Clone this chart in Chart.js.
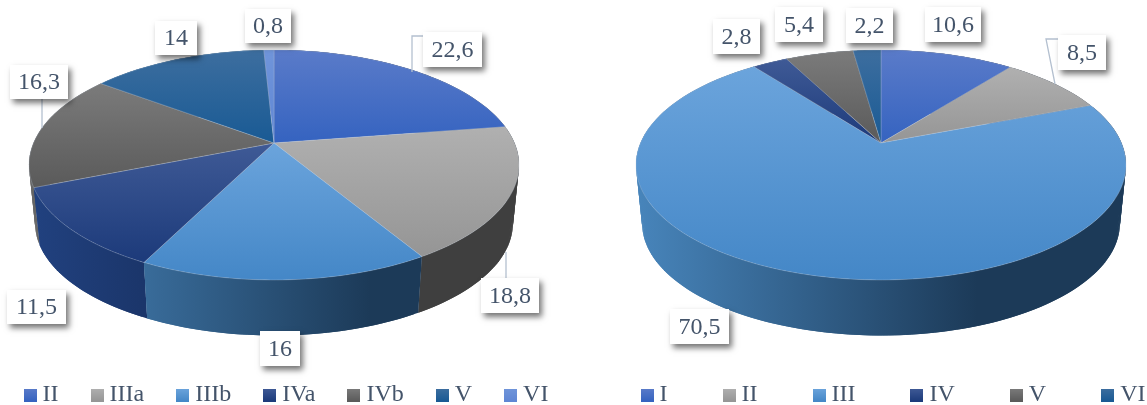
<!DOCTYPE html>
<html>
<head>
<meta charset="utf-8">
<style>
    html, body { margin: 0; width: 1147px; height: 405px; overflow: hidden; background: #fff; }
    canvas { position: absolute; top: 0; }
    #left-pie { left: -61px; }
    #right-pie { left: 546px; }
</style>
</head>
<body>
<canvas id="left-pie" width="700" height="417"></canvas>
<canvas id="right-pie" width="700" height="417"></canvas>
<script src="https://cdn.jsdelivr.net/npm/chart.js@4/dist/chart.umd.js"></script>
<script>
const leftCategories = ["II", "IIIa", "IIIb", "IVa", "IVb", "V", "VI"];
const leftValues = [22.6, 18.8, 16, 11.5, 16.3, 14, 0.8];
const rightCategories = ["I", "II", "III", "IV", "V", "VI"];
const rightValues = [10.6, 8.5, 70.5, 2.8, 5.4, 2.2];

// top face: light, dark (vertical) / wall: light, dark (left to right)
const topColors = [
    ["#5a7bc9", "#3563c0"],
    ["#b0b0b0", "#959595"],
    ["#6ba4dc", "#4487c7"],
    ["#3f5a96", "#1c3a7a"],
    ["#7b7b7b", "#5a5a5a"],
    ["#3d6e9f", "#195a94"],
    ["#7095da", "#5f86d4"],
];
const wallColors = [
    ["#2f55a5", "#1a2f62"],
    ["#777777", "#3f3f3f"],
    ["#4784ba", "#1c3a58"],
    ["#21417f", "#0e1e40"],
    ["#666666", "#333333"],
    ["#2a6494", "#123a5c"],
    ["#5a7cc4", "#2f4680"],
];

const TEXT_COLOR = "#44546a";
const LEADER_COLOR = "#b4c0d0";
const FONT = "24px 'Liberation Serif', serif";

// label boxes in page pixels, same order as the values
const leftBoxes = [
    [423, 32, 59, 35], [481, 278, 58, 35], [260, 331, 40, 35], [7, 290, 59, 34],
    [10, 65, 58, 34], [155, 21, 42, 34], [245, 9, 46, 34],
];
const rightBoxes = [
    [925, 7, 56, 35], [1058, 35, 48, 35], [670, 309, 59, 35], [713, 19, 47, 35],
    [775, 7, 48, 35], [846, 8, 47, 35],
];
const leftLeaders = [
    [[423, 36], [412, 36], [412, 72]],
    [[506, 278], [506, 252]],
    [[42, 99], [42, 128]],
];
const rightLeaders = [
    [[1058, 39], [1046, 39], [1055, 84]],
];

// tilted disc: circle radius -> perspective projection
const PIE_RADIUS = 240.5;
const TILT = 0.4607;
const PERSPECTIVE = -0.191;
const APEX_Y = 143;
const WALL_DROP = 59;
const WALL_SCALE = 0.975;
const PIE_SHIFT_X = -15; // legend is centred a bit right of the pie

function project(arc, angle, wall) {
    const u = Math.cos(angle);
    const v = Math.sin(angle);
    const w = 1 + PERSPECTIVE * v;
    const s = wall ? WALL_SCALE : 1;
    return [
        arc.x + (s * arc.outerRadius * u) / w,
        APEX_Y + (wall ? WALL_DROP : 0) + (s * arc.outerRadius * TILT * v) / w,
    ];
}

function rimPoints(arc, wall) {
    const pts = [];
    const n = Math.max(2, Math.ceil((arc.endAngle - arc.startAngle) / 0.02));
    for (let i = 0; i <= n; i++) {
        pts.push(project(arc, arc.startAngle + ((arc.endAngle - arc.startAngle) * i) / n, wall));
    }
    return pts;
}

function tracePath(ctx, pts) {
    ctx.beginPath();
    pts.forEach((p, i) => (i ? ctx.lineTo(p[0], p[1]) : ctx.moveTo(p[0], p[1])));
    ctx.closePath();
}

function drawWalls(ctx, arcs) {
    // back slices first
    const order = arcs.map((a, i) => i).sort((a, b) => {
        const ay = Math.sin((arcs[a].startAngle + arcs[a].endAngle) / 2);
        const by = Math.sin((arcs[b].startAngle + arcs[b].endAngle) / 2);
        return ay - by;
    });
    order.forEach((i) => {
        const arc = arcs[i];
        const top = rimPoints(arc, false);
        const low = rimPoints(arc, true);
        const g = ctx.createLinearGradient(arc.x - arc.outerRadius, 0, arc.x + arc.outerRadius, 0);
        g.addColorStop(0, wallColors[i][0]);
        g.addColorStop(0.7, wallColors[i][1]);
        g.addColorStop(1, wallColors[i][1]);
        ctx.fillStyle = g;
        // overlapping quads, so the outline between the two rims is swept without seams
        for (let k = 0; k < top.length - 1; k++) {
            const next = Math.min(k + 2, top.length - 1);
            tracePath(ctx, [top[k], top[next], low[next], low[k]]);
            ctx.fill();
        }
    });
}

function drawTops(ctx, arcs) {
    arcs.forEach((arc, i) => {
        const rim = rimPoints(arc, false);
        const apex = [arc.x, APEX_Y];
        const pts = [apex].concat(rim);
        const ys = pts.map((p) => p[1]);
        const g = ctx.createLinearGradient(0, Math.min(...ys), 0, Math.max(...ys));
        g.addColorStop(0, topColors[i][0]);
        g.addColorStop(1, topColors[i][1]);
        tracePath(ctx, pts);
        ctx.fillStyle = g;
        ctx.fill();
        ctx.strokeStyle = "rgba(190,200,215,0.35)";
        ctx.lineWidth = 0.8;
        ctx.stroke();
    });
}

function drawLabels(ctx, values, boxes, leaders, originX) {
    ctx.save();
    ctx.translate(-originX, 0);
    ctx.strokeStyle = LEADER_COLOR;
    ctx.lineWidth = 1.3;
    leaders.forEach((line) => {
        ctx.beginPath();
        line.forEach((p, i) => (i ? ctx.lineTo(p[0], p[1]) : ctx.moveTo(p[0], p[1])));
        ctx.stroke();
    });
    values.forEach((v, i) => {
        const [x, y, w, h] = boxes[i];
        ctx.save();
        ctx.shadowColor = "rgba(0,0,0,0.55)";
        ctx.shadowBlur = 6;
        ctx.shadowOffsetX = 3;
        ctx.shadowOffsetY = 4;
        ctx.fillStyle = "#fff";
        ctx.fillRect(x, y, w, h);
        ctx.restore();
        ctx.fillStyle = TEXT_COLOR;
        ctx.font = FONT;
        ctx.textAlign = "center";
        ctx.textBaseline = "middle";
        ctx.fillText(String(v).replace(".", ","), x + w / 2, y + h / 2 + 1);
    });
    ctx.restore();
}

// legend swatch as a small canvas so it keeps the gradient
function swatch(i) {
    const c = document.createElement("canvas");
    c.width = 13;
    c.height = 13;
    const x = c.getContext("2d");
    const g = x.createLinearGradient(0, 0, 0, 13);
    g.addColorStop(0, topColors[i][0]);
    g.addColorStop(1, topColors[i][1]);
    x.fillStyle = g;
    x.fillRect(0, 0, 13, 13);
    return c;
}

function makePie(id, categories, values, boxes, leaders, originX, legendGap) {
    return new Chart(document.getElementById(id), {
        type: "pie",
        data: {
            labels: categories,
            datasets: [
                {
                    data: values,
                    backgroundColor: values.map((v, i) => topColors[i][1]),
                    borderWidth: 0,
                },
            ],
        },
        options: {
            responsive: false,
            animation: false,
            radius: PIE_RADIUS,
            plugins: {
                tooltip: { enabled: false },
                legend: {
                    position: "bottom",
                    labels: {
                        color: TEXT_COLOR,
                        font: { family: "'Liberation Serif', serif", size: 24 },
                        padding: legendGap,
                        boxHeight: 13,
                        usePointStyle: true,
                        pointStyleWidth: 1,
                        generateLabels: (chart) =>
                            chart.data.labels.map((text, i) => ({
                                text: text,
                                index: i,
                                fontColor: TEXT_COLOR,
                                pointStyle: swatch(i),
                                lineWidth: 0,
                            })),
                    },
                },
            },
        },
        plugins: [
            {
                id: "tiltedPie",
                beforeDatasetsDraw(chart) {
                    const ctx = chart.ctx;
                    const arcs = chart.getDatasetMeta(0).data;
                    ctx.save();
                    ctx.translate(PIE_SHIFT_X, 0);
                    drawWalls(ctx, arcs);
                    drawTops(ctx, arcs);
                    ctx.restore();
                    drawLabels(ctx, values, boxes, leaders, originX);
                    return false;
                },
            },
        ],
    });
}

makePie("left-pie", leftCategories, leftValues, leftBoxes, leftLeaders, -61, 38);
makePie("right-pie", rightCategories, rightValues, rightBoxes, rightLeaders, 546, 61);
</script>
</body>
</html>
